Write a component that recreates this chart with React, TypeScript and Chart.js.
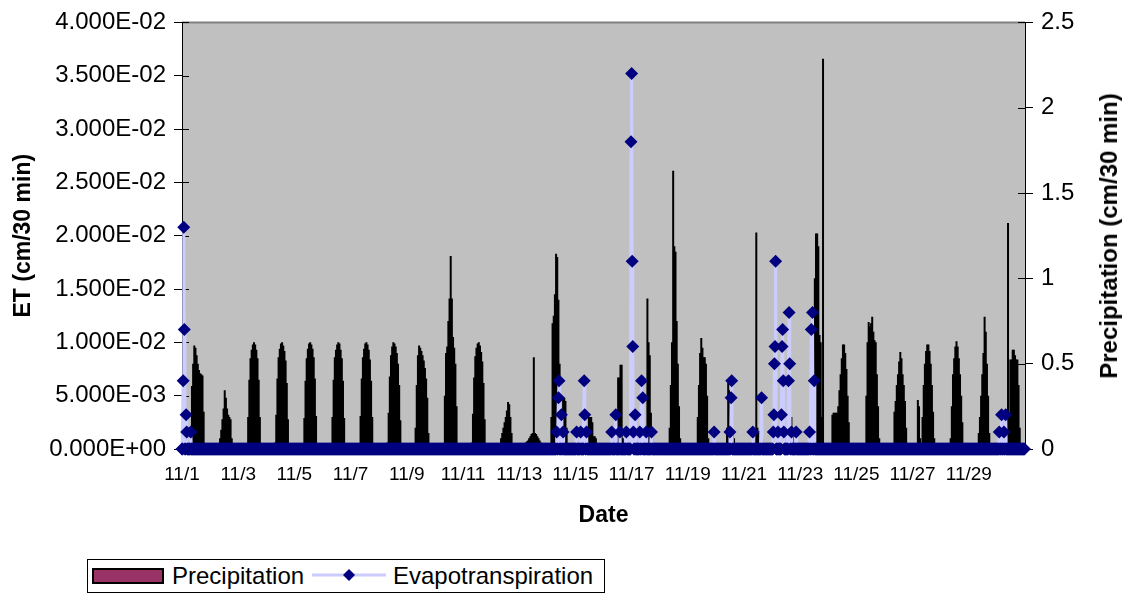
import React, { useEffect, useRef } from 'react';
import { Chart, registerables } from 'chart.js';

Chart.register(...registerables);

const FONT = '"Liberation Sans", Arial, Helvetica, sans-serif';

// ---- x axis (days after 11/1 00:00) ----
const dateTickDays = [0, 2, 4, 6, 8, 10, 12, 14, 16, 18, 20, 22, 24, 26, 28];
const dateLabels = ['11/1', '11/3', '11/5', '11/7', '11/9', '11/11', '11/13', '11/15', '11/17', '11/19', '11/21', '11/23', '11/25', '11/27', '11/29'];
const dayCount = 30;
const hoursPerDay = 24;
const slotsPerDay = 48;

// ---- left axis series: hourly values (cm/30 min), hours 0..23 of each day ----
const et1101 = [0,0,0,0,0,0, 0,0,.0059,.0080,.0097,.0095, .0088,.0080,.0074,.0071,.0070,.0069, .0035,.0005,0,0,0,0];
const et1102 = [0,0,0,0,0,0, 0,.0003,.0010,.0018,.0028,.0038, .0055,.0048,.0038,.0032,.0030,.0028, .0010,0,0,0,0,0];
const et1103 = [0,0,0,0,0,0, 0,.0005,.0030,.0065,.0085,.0093, .0098,.0100,.0098,.0093,.0085,.0065, .0030,.0003,0,0,0,0];
const et1104 = [0,0,0,0,0,0, 0,.0006,.0032,.0066,.0086,.0094, .0099,.0100,.0097,.0092,.0083,.0062, .0028,.0003,0,0,0,0];
const et1105 = [0,0,0,0,0,0, 0,.0004,.0029,.0064,.0085,.0094, .0099,.0100,.0098,.0094,.0086,.0066, .0031,.0004,0,0,0,0];
const et1106 = [0,0,0,0,0,0, 0,.0005,.0030,.0065,.0086,.0093, .0098,.0100,.0099,.0093,.0085,.0064, .0029,.0003,0,0,0,0];
const et1107 = [0,0,0,0,0,0, 0,.0005,.0031,.0066,.0086,.0094, .0099,.0100,.0098,.0093,.0084,.0064, .0030,.0003,0,0,0,0];
const et1108 = [0,0,0,0,0,0, 0,.0006,.0034,.0068,.0088,.0096, .0100,.0099,.0096,.0090,.0080,.0060, .0027,.0002,0,0,0,0];
const et1109 = [0,0,0,0,0,0, 0,.0020,.0060,.0088,.0097,.0095, .0092,.0088,.0083,.0076,.0066,.0048, .0015,0,0,0,0,0];
const et1110 = [0,0,0,0,0,0, 0,.0005,.0050,.0090,.0096,.0120, .0141,.0181,.0141,.0105,.0095,.0080, .0040,.0003,0,0,0,0];
const et1111 = [0,0,0,0,0,0, 0,.0006,.0033,.0067,.0087,.0095, .0099,.0100,.0097,.0091,.0082,.0062, .0028,.0003,0,0,0,0];
const et1112 = [0,0,0,0,0,0, 0,0,.0010,.0015,.0020,.0025, .0030,.0036,.0044,.0042,.0030,.0015, .0003,0,0,0,0,0];
const et1113 = [0,0,0,.0003,.0005,.0006, .0007,.0008,.0010,.0012,.0014,.0015, .0086,.0015,.0014,.0012,.0010,.0008, .0006,.0004,.0002,0,0,0];
const et1114 = [0,0,0,.0030,.0118,.0125, .0145,.0183,.0180,.0140,.0080,.0020, .0020,.0048,.0048,.0045,.0020,0, 0,0,0,0,0,0];
const et1115 = [0,0,0,0,0,0, 0,0,0,0,.0010,.0030, .0030,.0030,.0025,.0012,.0012,.0010, .0005,0,0,0,0,0];
const et1116 = [0,0,0,0,0,0, 0,0,0,0,0,0, .0067,.0067,.0079,.0079,.0010,0, 0,0,0,0,0,0];
const et1117 = [0,0,0,0,0,0, 0,0,0,0,0,0, .0005,.0141,.0100,.0088,.0034,.0010, 0,0,0,0,0,0];
const et1118 = [0,0,0,0,0,0, 0,0,.0020,.0060,.0100,.0261, .0190,.0185,.0120,.0080,.0040,.0010, 0,0,0,0,0,0];
const et1119 = [0,0,0,0,0,0, 0,.0005,.0030,.0060,.0090,.0104, .0095,.0086,.0086,.0080,.0050,.0010, 0,0,0,0,0,0];
const et1120 = [0,0,0,0,0,0, 0,0,0,.0020,.0062,.0055, .0030,.0020,.0015,.0010,.0005,0, 0,0,0,0,0,0];
const et1121 = [0,0,0,0,0,0, 0,0,0,0,.0203,.0020, .0015,.0017,.0015,.0010,0,0, 0,0,0,0,0,0];
const et1122 = [0,0,0,0,0,0, 0,0,0,0,0,0, 0,0,.0015,.0030,.0030,.0020, 0,0,0,0,0,0];
const et1123 = [0,0,0,0,0,0, 0,0,0,.0010,.0040,.0090, .0160,.0202,.0202,.0190,.0107,.0100, .0030,.0366,0,0,0,0];
const et1124 = [0,0,0,.0032,.0034,.0034, .0034,.0034,.0040,.0055,.0070,.0085, .0098,.0098,.0090,.0075,.0050,.0025, .0005,0,0,0,0,0];
const et1125 = [0,0,0,0,0,0, 0,0,.0050,.0100,.0119,.0115, .0118,.0124,.0110,.0102,.0100,.0070, .0040,.0010,0,0,0,0];
const et1126 = [0,0,0,0,0,0, 0,0,.0035,.0045,.0060,.0070, .0082,.0091,.0085,.0070,.0060,.0045, .0020,0,0,0,0,0];
const et1127 = [0,0,0,.0005,.0046,.0040, .0010,.0005,.0030,.0060,.0080,.0092, .0098,.0098,.0092,.0080,.0060,.0035, .0010,0,0,0,0,0];
const et1128 = [0,0,0,0,0,0, 0,0,.0010,.0040,.0070,.0085, .0096,.0101,.0096,.0085,.0070,.0050, .0025,.0005,0,0,0,0];
const et1129 = [0,0,0,0,0,0, 0,0,.0015,.0030,.0050,.0070, .0090,.0124,.0110,.0080,.0050,.0015, 0,0,0,0,0,0];
const et1130 = [0,0,0,0,0,0, 0,0,0,.0212,.0030,.0084, .0084,.0093,.0093,.0088,.0084,.0084, .0060,.0020,0,0,0,0];

const etDays = [et1101, et1102, et1103, et1104, et1105, et1106, et1107, et1108, et1109, et1110,
  et1111, et1112, et1113, et1114, et1115, et1116, et1117, et1118, et1119, et1120,
  et1121, et1122, et1123, et1124, et1125, et1126, et1127, et1128, et1129, et1130];

// ---- right axis series: non-zero half-hour readings (slot = half-hours after 11/1 00:00) ----
const precipSlot = [2, 3, 4, 7, 8, 15,
  640, 643, 644, 648, 651,
  674, 681, 687, 688, 691,
  734, 741, 748, 759, 767, 768, 769, 770, 771, 774, 782, 785, 787, 793, 802,
  909, 936, 938, 939, 975, 990,
  1010, 1011, 1012, 1013, 1014, 1018, 1024, 1025, 1026, 1027, 1028, 1036, 1037, 1038, 1041, 1049,
  1072, 1075, 1077, 1080,
  1396, 1400, 1404, 1407];
const precipValue = [0.4, 1.3, 0.7, 0.2, 0.1, 0.1,
  0.1, 0.3, 0.4, 0.2, 0.1,
  0.1, 0.1, 0.4, 0.2, 0.1,
  0.1, 0.2, 0.1, 0.1, 1.8, 2.2, 1.1, 0.6, 0.1, 0.2, 0.1, 0.4, 0.3, 0.1, 0.1,
  0.1, 0.1, 0.3, 0.4, 0.1, 0.3,
  0.1, 0.2, 0.5, 0.6, 1.1, 0.1, 0.2, 0.6, 0.7, 0.4, 0.1, 0.4, 0.8, 0.5, 0.1, 0.1,
  0.1, 0.7, 0.8, 0.4,
  0.1, 0.2, 0.1, 0.2];

function fmtExp(v: number): string {
  const [m, e] = Number(v).toExponential(3).split('e');
  const n = Math.abs(parseInt(e, 10));
  return m + 'E' + (e.startsWith('-') ? '-' : '+') + String(n).padStart(2, '0');
}

const plotBg = {
  id: 'plotBg',
  beforeDraw(chart: any) {
    const { ctx, chartArea } = chart;
    const { left, top, right, bottom } = chartArea;
    ctx.save();
    ctx.fillStyle = '#c0c0c0';
    ctx.fillRect(left, top, right - left, bottom - top);
    ctx.strokeStyle = '#808080';
    ctx.lineWidth = 2;
    ctx.beginPath();
    ctx.moveTo(left, top);
    ctx.lineTo(right, top);
    ctx.stroke();
    ctx.strokeStyle = '#000';
    ctx.lineWidth = 1;
    const sy = chart.scales.y;
    sy.ticks.forEach((_t: any, i: number) => {
      const py = Math.round(sy.getPixelForTick(i)) + 0.5;
      ctx.beginPath();
      ctx.moveTo(left, py);
      ctx.lineTo(left + 7, py);
      ctx.stroke();
    });
    const sy1 = chart.scales.y1;
    sy1.ticks.forEach((_t: any, i: number) => {
      const py = Math.round(sy1.getPixelForTick(i)) + 0.5;
      ctx.beginPath();
      ctx.moveTo(right - 7, py);
      ctx.lineTo(right, py);
      ctx.stroke();
    });
    ctx.restore();
  },
};

export default function App() {
  const ref = useRef<HTMLCanvasElement>(null);

  useEffect(() => {
    const barData: { x: number; y: number }[] = [];
    etDays.forEach((day, d) => {
      day.forEach((v, h) => {
        if (v > 0) barData.push({ x: d + (h + 0.5) / hoursPerDay, y: v });
      });
    });
    const lineData = Array.from({ length: dayCount * slotsPerDay }, (_, i) => ({ x: i / slotsPerDay, y: 0 }));
    precipSlot.forEach((s, k) => {
      lineData[s].y = precipValue[k];
    });

    const chart = new Chart(ref.current as HTMLCanvasElement, {
      type: 'bar',
      data: {
        datasets: [
          {
            type: 'bar',
            label: 'Precipitation',
            data: barData,
            xAxisID: 'x',
            yAxisID: 'y',
            backgroundColor: '#000000',
            borderWidth: 0,
            barThickness: 2,
            inflateAmount: 0,
            order: 1,
          } as any,
          {
            type: 'line',
            label: 'Evapotranspiration',
            data: lineData,
            xAxisID: 'x',
            yAxisID: 'y1',
            borderColor: '#CCCCFF',
            borderWidth: 3,
            pointStyle: 'rectRot',
            pointRadius: 6.5,
            pointBackgroundColor: '#000080',
            pointBorderColor: '#000080',
            pointBorderWidth: 0,
            tension: 0,
            clip: false,
            order: 0,
          } as any,
        ],
      },
      options: {
        responsive: false,
        maintainAspectRatio: false,
        animation: false,
        events: [],
        devicePixelRatio: 1,
        layout: { padding: { left: 0, right: 0, top: 20, bottom: 64 } },
        plugins: {
          legend: { display: false },
          tooltip: { enabled: false },
        },
        scales: {
          x: {
            type: 'linear',
            position: 'bottom',
            offset: false,
            min: 0,
            max: dayCount,
            afterBuildTicks: (s: any) => {
              s.ticks = dateTickDays.map((v) => ({ value: v }));
            },
            afterFit: (s: any) => {
              s.height = 80;
            },
            ticks: {
              autoSkip: false,
              maxRotation: 0,
              minRotation: 0,
              padding: 6,
              color: '#000',
              font: { family: FONT, size: 19 },
              callback: (_v: any, i: number) => dateLabels[i],
            },
            grid: { drawOnChartArea: false, offset: false, tickLength: 8, color: 'rgba(0,0,0,0)' },
            border: { display: true, color: '#000' },
            title: {
              display: true,
              text: 'Date',
              color: '#000',
              font: { family: FONT, size: 23, weight: 'bold' },
              padding: { top: 0, bottom: 0 },
            },
          },
          y: {
            type: 'linear',
            position: 'left',
            min: 0,
            max: 0.04,
            afterFit: (s: any) => {
              s.width = 182;
            },
            ticks: {
              stepSize: 0.005,
              autoSkip: false,
              padding: 8,
              color: '#000',
              font: { family: FONT, size: 24 },
              callback: (v: any) => fmtExp(Number(v)),
            },
            grid: { drawOnChartArea: false, tickLength: 8, color: '#000' },
            border: { display: true, color: '#000' },
            title: {
              display: true,
              text: 'ET (cm/30 min)',
              color: '#000',
              font: { family: FONT, size: 23, weight: 'bold' },
              padding: { top: 10, bottom: 0 },
            },
          },
          y1: {
            type: 'linear',
            position: 'right',
            min: 0,
            max: 2.5,
            afterFit: (s: any) => {
              s.width = 100;
            },
            ticks: {
              stepSize: 0.5,
              autoSkip: false,
              padding: 8,
              color: '#000',
              font: { family: FONT, size: 24 },
              callback: (v: any) => String(Math.round(Number(v) * 10) / 10),
            },
            grid: { drawOnChartArea: false, tickLength: 8, color: '#000' },
            border: { display: true, color: '#000' },
          },
        },
      } as any,
      plugins: [plotBg],
    });
    return () => chart.destroy();
  }, []);

  const textStyle: React.CSSProperties = {
    position: 'absolute',
    fontFamily: FONT,
    fontSize: 24,
    lineHeight: '24px',
    color: '#000',
    whiteSpace: 'nowrap',
  };

  return (
    <div style={{ position: 'absolute', left: 0, top: 0, width: 1125, height: 593, background: '#fff', overflow: 'hidden' }}>
      <canvas ref={ref} width={1125} height={593} style={{ position: 'absolute', left: 0, top: 0, width: 1125, height: 593 }} />
      <div
        style={{
          position: 'absolute',
          left: 1109,
          top: 236,
          transform: 'translate(-50%, -50%) rotate(-90deg)',
          fontFamily: FONT,
          fontSize: 24,
          fontWeight: 'bold',
          color: '#000',
          whiteSpace: 'nowrap',
          lineHeight: '28px',
        }}
      >
        Precipitation (cm/30 min)
      </div>
      <div
        style={{
          position: 'absolute',
          left: 87,
          top: 559,
          width: 518,
          height: 34,
          border: '1px solid #000',
          boxSizing: 'border-box',
          background: '#fff',
        }}
      >
        <div
          style={{
            position: 'absolute',
            left: 4,
            top: 8,
            width: 72,
            height: 16,
            background: '#993366',
            border: '2px solid #000',
            boxSizing: 'border-box',
          }}
        />
        <div style={{ ...textStyle, left: 84, top: 4 }}>Precipitation</div>
        <svg style={{ position: 'absolute', left: 224, top: 7 }} width={74} height={16}>
          <line x1={0} y1={8} x2={74} y2={8} stroke="#CCCCFF" strokeWidth={3} />
          <polygon points="37,2 43,8 37,14 31,8" fill="#000080" />
        </svg>
        <div style={{ ...textStyle, left: 305, top: 4 }}>Evapotranspiration</div>
      </div>
    </div>
  );
}
